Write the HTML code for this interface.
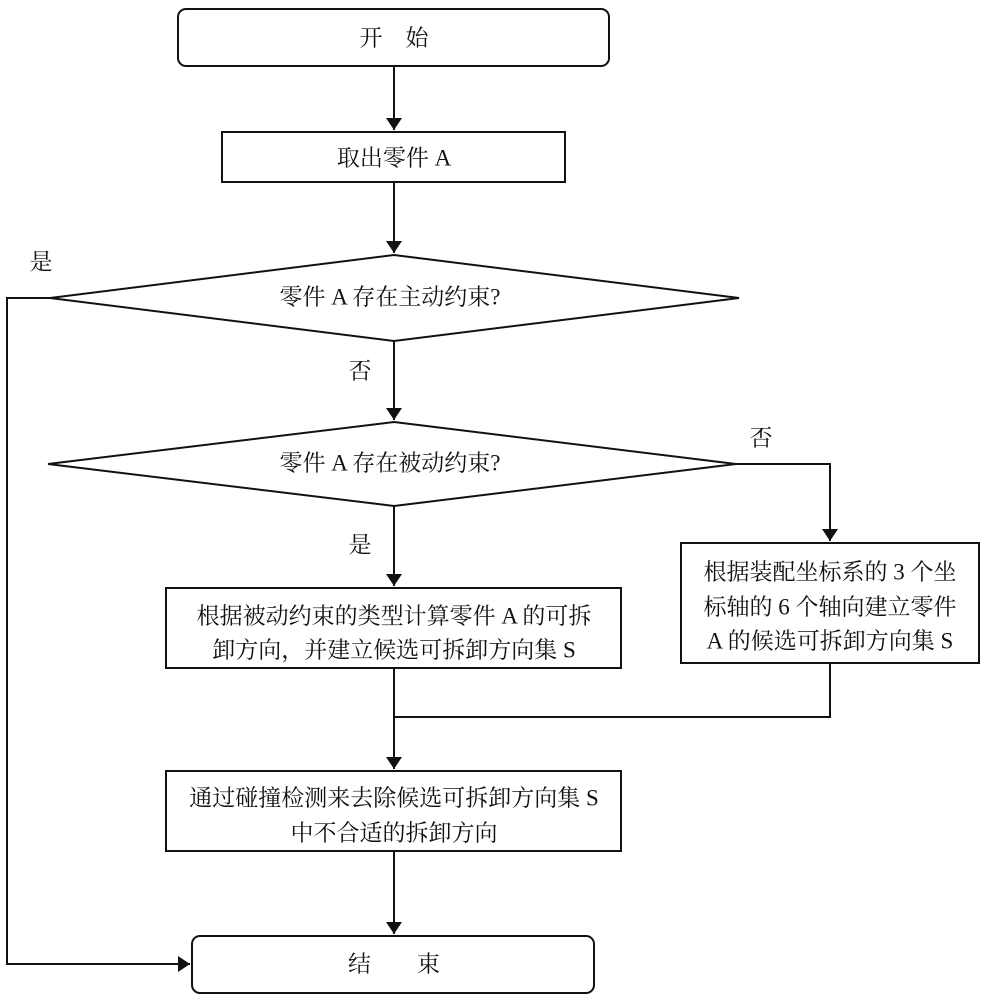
<!DOCTYPE html>
<html><head><meta charset="utf-8"><style>
html,body{margin:0;padding:0;background:#fff;}
svg{display:block;}
text{font-family:"Liberation Serif","Noto Serif CJK SC",serif;font-size:23px;fill:#111;}
</style></head><body>
<svg width="982" height="1000" viewBox="0 0 982 1000" xmlns="http://www.w3.org/2000/svg">
<defs>
<marker id="b" viewBox="0 0 12 16" markerWidth="12" markerHeight="16" refX="12" refY="8" orient="auto" markerUnits="userSpaceOnUse"><path d="M0,0 L12,8 L0,16 z" fill="#111"/></marker></defs>
<g stroke="#111" stroke-width="2" fill="none">
<rect x="178" y="9" width="431" height="57" rx="8"/>
<rect x="222" y="132" width="343" height="50"/>
<polygon points="394,255 739,298 394,341 50,298"/>
<polygon points="394,422 736,464 394,506 48,464"/>
<rect x="166" y="588" width="455" height="80"/>
<rect x="681" y="543" width="298" height="120"/>
<rect x="166" y="771" width="455" height="80"/>
<rect x="192" y="936" width="402" height="57" rx="8"/>
<line x1="394" y1="66" x2="394" y2="130" marker-end="url(#b)"/>
<line x1="394" y1="182" x2="394" y2="253" marker-end="url(#b)"/>
<line x1="394" y1="341" x2="394" y2="420" marker-end="url(#b)"/>
<line x1="394" y1="506" x2="394" y2="586" marker-end="url(#b)"/>
<polyline points="736,464 830,464 830,541" marker-end="url(#b)"/>
<line x1="394" y1="668" x2="394" y2="769" marker-end="url(#b)"/>
<polyline points="830,663 830,717 394,717"/>
<line x1="394" y1="851" x2="394" y2="934" marker-end="url(#b)"/>
<polyline points="50,298 7,298 7,964 190,964" marker-end="url(#b)"/>
</g>
<g text-anchor="middle" dominant-baseline="central">
<text x="394" y="38">开　始</text>
<text x="394" y="158">取出零件 A</text>
<text x="390" y="297">零件 A 存在主动约束?</text>
<text x="390" y="463">零件 A 存在被动约束?</text>
<text x="394" y="616">根据被动约束的类型计算零件 A 的可拆</text>
<text x="394" y="650">卸方向，并建立候选可拆卸方向集 S</text>
<text x="830" y="572">根据装配坐标系的 3 个坐</text>
<text x="830" y="607">标轴的 6 个轴向建立零件</text>
<text x="830" y="641">A 的候选可拆卸方向集 S</text>
<text x="394" y="798">通过碰撞检测来去除候选可拆卸方向集 S</text>
<text x="394" y="833">中不合适的拆卸方向</text>
<text x="394" y="964">结　　束</text>
<text x="41" y="262">是</text>
<text x="360" y="371">否</text>
<text x="761" y="438">否</text>
<text x="360" y="545">是</text>
</g>
</svg>
</body></html>
